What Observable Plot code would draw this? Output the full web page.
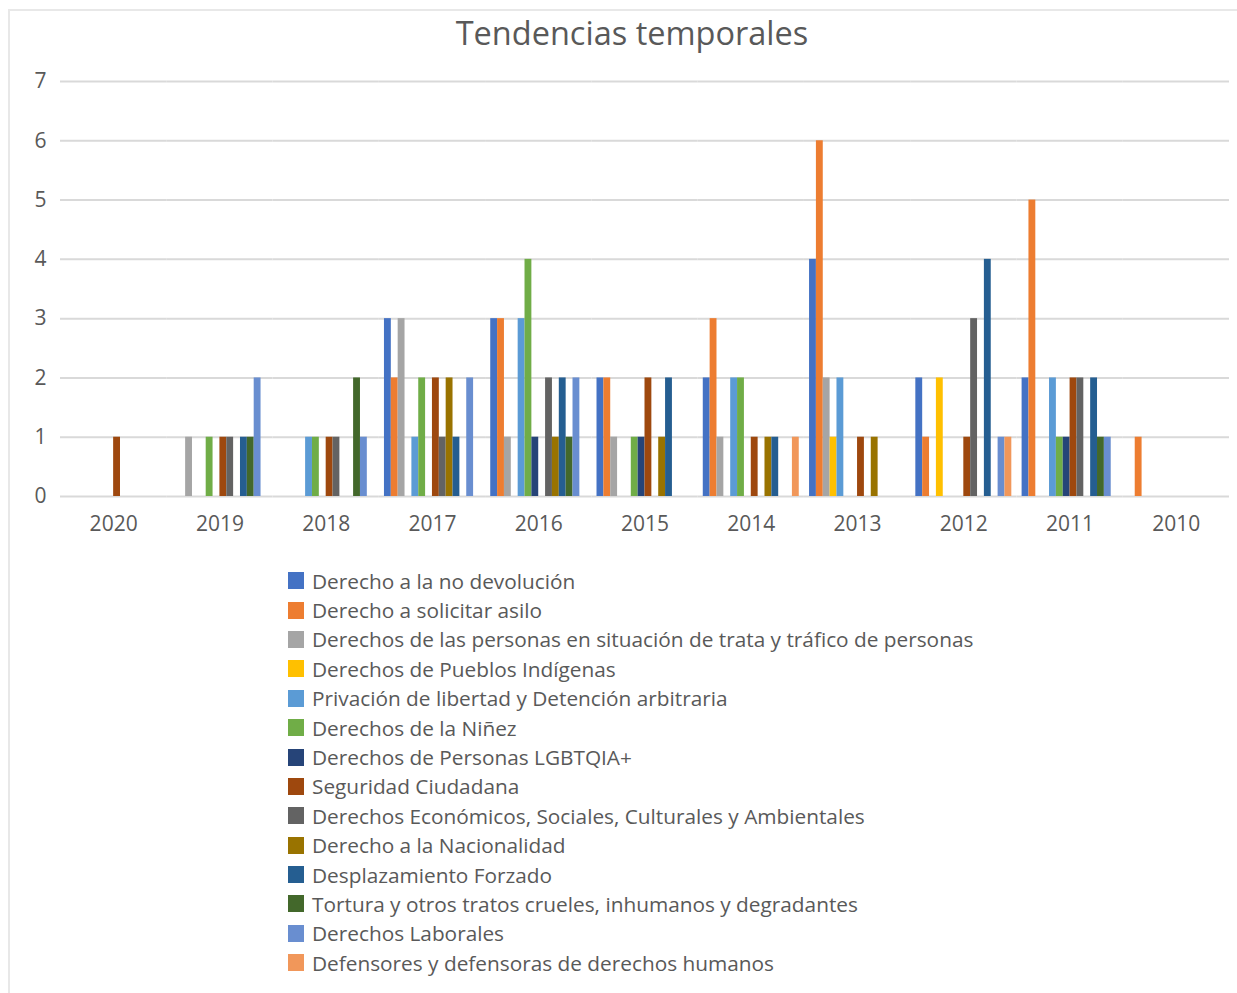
<!DOCTYPE html>
<html>
<head>
<meta charset="utf-8">
<script src="https://cdn.jsdelivr.net/npm/d3@7"></script>
<script src="https://cdn.jsdelivr.net/npm/@observablehq/plot@0.6"></script>
<style>
  html, body { margin: 0; padding: 0; background: #fff; }
  body { width: 1237px; height: 993px; position: relative; overflow: hidden; font-family: "Open Sans", sans-serif; }
  #frame { position: absolute; left: 8px; top: 9px; width: 1240px; height: 1000px; border: 2px solid #e8e8e8; box-sizing: border-box; }
  #title { position: absolute; left: 0; width: 1264px; top: 11px; text-align: center; font-size: 32.5px; color: #595959; line-height: 44px; }
  #chart { position: absolute; left: 0; top: 60px; }
  #legend { position: absolute; left: 288px; top: 566px; }
  .item { height: 29.4px; display: flex; align-items: center; font-size: 20.8px; color: #595959; white-space: nowrap; }
  .sw { width: 16px; height: 17px; margin-right: 8px; flex: none; }
</style>
</head>
<body>
<div id="frame"></div>
<div id="title">Tendencias temporales</div>
<div id="chart"></div>
<div id="legend"></div>
<script>
const years = ["2020","2019","2018","2017","2016","2015","2014","2013","2012","2011","2010"];
const series = [
  "Derecho a la no devolución",
  "Derecho a solicitar asilo",
  "Derechos de las personas en situación de trata y tráfico de personas",
  "Derechos de Pueblos Indígenas",
  "Privación de libertad y Detención arbitraria",
  "Derechos de la Niñez",
  "Derechos de Personas LGBTQIA+",
  "Seguridad Ciudadana",
  "Derechos Económicos, Sociales, Culturales y Ambientales",
  "Derecho a la Nacionalidad",
  "Desplazamiento Forzado",
  "Tortura y otros tratos crueles, inhumanos y degradantes",
  "Derechos Laborales",
  "Defensores y defensoras de derechos humanos"
];
const colors = ["#4472C4","#ED7D31","#A5A5A5","#FFC000","#5B9BD5","#70AD47","#264478","#9E480E","#636363","#997300","#255E91","#43682B","#698ED0","#F1975A"];

// values per series, in the order of `years`
const noDevolucion    = [0,0,0,3,3,2,2,4,2,2,0];
const asilo           = [0,0,0,2,3,2,3,6,1,5,1];
const trata           = [0,1,0,3,1,1,1,2,0,0,0];
const indigenas       = [0,0,0,0,0,0,0,1,2,0,0];
const privacion       = [0,0,1,1,3,0,2,2,0,2,0];
const ninez           = [0,1,1,2,4,1,2,0,0,1,0];
const lgbtqia         = [0,0,0,0,1,1,0,0,0,1,0];
const seguridad       = [1,1,1,2,0,2,1,1,1,2,0];
const desca           = [0,1,1,1,2,0,0,0,3,2,0];
const nacionalidad    = [0,0,0,2,1,1,1,1,0,0,0];
const desplazamiento  = [0,1,0,1,2,2,1,0,4,2,0];
const tortura         = [0,1,2,0,1,0,0,0,0,1,0];
const laborales       = [0,2,1,2,2,0,0,0,1,1,0];
const defensores      = [0,0,0,0,0,0,1,0,1,0,0];
const yTicks = [0,1,2,3,4,5,6,7];

const seriesValues = [noDevolucion, asilo, trata, indigenas, privacion, ninez, lgbtqia, seguridad, desca, nacionalidad, desplazamiento, tortura, laborales, defensores];

const data = [];
series.forEach((s, k) => years.forEach((y, i) => data.push({year: y, series: s, value: seriesValues[k][i]})));

const chart = Plot.plot({
  width: 1237,
  height: 486,
  marginLeft: 60,
  marginRight: 8,
  marginTop: 21,
  marginBottom: 50,
  style: {fontFamily: "Open Sans", fontSize: "21px", color: "#595959", background: "transparent", overflow: "visible"},
  facet: {data: data, x: "year"},
  fx: {domain: years, padding: 0, round: false, label: null, tickSize: 0, tickPadding: 20, axis: "bottom"},
  x: {domain: series, paddingInner: 0, paddingOuter: 0.75, round: false, axis: null},
  y: {domain: [0, 7], ticks: yTicks, tickFormat: d3.format("d"), tickSize: 0, tickPadding: 14, label: null},
  color: {domain: series, range: colors},
  marks: [
    Plot.ruleY(yTicks, {stroke: "#d9d9d9", strokeWidth: 2}),
    Plot.barY(data, {x: "series", y: "value", fill: "series", filter: d => d.value > 0})
  ]
});
document.getElementById("chart").appendChild(chart);

const legend = document.getElementById("legend");
series.forEach((s, k) => {
  const row = document.createElement("div");
  row.className = "item";
  const sw = document.createElement("span");
  sw.className = "sw";
  sw.style.background = colors[k];
  const t = document.createElement("span");
  t.textContent = s;
  row.appendChild(sw);
  row.appendChild(t);
  legend.appendChild(row);
});
</script>
</body>
</html>
